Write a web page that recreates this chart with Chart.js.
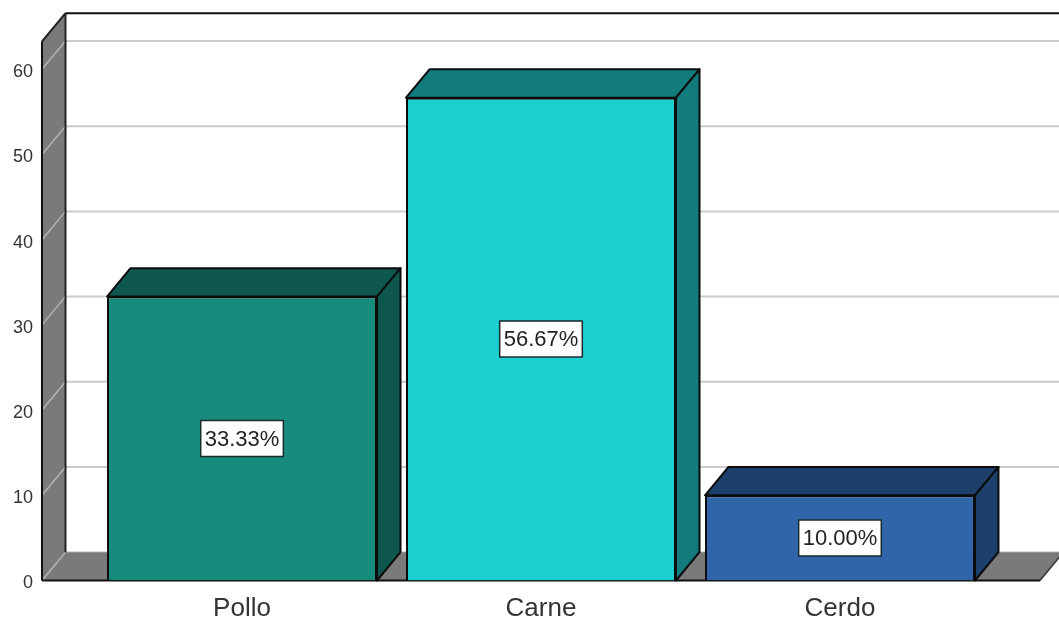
<!DOCTYPE html>
<html>
<head>
<meta charset="utf-8">
<title>Carne</title>
<script src="https://cdn.jsdelivr.net/npm/chart.js@4"></script>
<style>
  html, body { margin: 0; padding: 0; background: #fff; overflow: hidden; }
  canvas { display: block; }
</style>
</head>
<body>
<canvas id="mychartCanvas" width="1059" height="619"></canvas>
<script>
var categories = ["Pollo", "Carne", "Cerdo"];
var values = [33.33, 56.67, 10.00];
var tickValues = [0, 10, 20, 30, 40, 50, 60];
var frontColors = ["#178b7c", "#1ccfd0", "#3066a9"];
var depthColors = ["#0e574e", "#127c7d", "#1d3f6c"];

var depthX = 23.5;
var depthY = 28.3;
var labelFont = "22px 'Liberation Sans', Arial, sans-serif";

function poly(ctx, pts, fill, stroke, lw) {
  ctx.beginPath();
  ctx.moveTo(pts[0][0], pts[0][1]);
  for (var i = 1; i < pts.length; i++) {
    ctx.lineTo(pts[i][0], pts[i][1]);
  }
  ctx.closePath();
  if (fill) {
    ctx.fillStyle = fill;
    ctx.fill();
  }
  if (stroke) {
    ctx.strokeStyle = stroke;
    ctx.lineWidth = lw;
    ctx.lineJoin = "round";
    ctx.stroke();
  }
}

function line(ctx, x1, y1, x2, y2, color, lw) {
  ctx.beginPath();
  ctx.moveTo(x1, y1);
  ctx.lineTo(x2, y2);
  ctx.strokeStyle = color;
  ctx.lineWidth = lw;
  ctx.stroke();
}

// the walls and floor behind the bars
var wallsPlugin = {
  id: "walls",
  beforeDatasetsDraw: function (chart) {
    var ctx = chart.ctx;
    var a = chart.chartArea;
    var yScale = chart.scales.y;
    ctx.save();

    poly(ctx, [[a.left, a.bottom], [a.right, a.bottom], [a.right + depthX, a.bottom - depthY], [a.left + depthX, a.bottom - depthY]], "#7a7a7a");
    poly(ctx, [[a.left, a.top], [a.left + depthX, a.top - depthY], [a.left + depthX, a.bottom - depthY], [a.left, a.bottom]], "#7a7a7a");

    tickValues.forEach(function (v) {
      var y = yScale.getPixelForValue(v);
      line(ctx, a.left, y, a.left + depthX, y - depthY, "#b4b4b4", 1.5);
      if (v > 0) {
        line(ctx, a.left + depthX, y - depthY, a.right + depthX, y - depthY, "#cbcbcb", 2);
      }
    });

    line(ctx, a.left + depthX, a.bottom - depthY, a.right + depthX, a.bottom - depthY, "#8c8c8c", 1);
    line(ctx, a.left + depthX, a.top - depthY, a.left + depthX, a.bottom - depthY, "#222", 2);
    line(ctx, a.left + depthX, a.top - depthY, a.right + depthX, a.top - depthY, "#111", 2);
    line(ctx, a.left, a.top, a.left + depthX, a.top - depthY, "#222", 2);
    line(ctx, a.left, a.top, a.left, a.bottom, "#111", 2);
    line(ctx, a.left, a.bottom, a.right, a.bottom, "#111", 2);
    line(ctx, a.right, a.bottom, a.right + depthX, a.bottom - depthY, "#333", 1.5);
    ctx.restore();
  }
};

// top and side faces of the bars, then the value boxes
var barsPlugin = {
  id: "bars3d",
  afterDatasetsDraw: function (chart) {
    var ctx = chart.ctx;
    var bars = chart.getDatasetMeta(0).data;
    ctx.save();
    bars.forEach(function (bar, i) {
      var p = bar.getProps(["x", "y", "base", "width"], true);
      var l = p.x - p.width / 2;
      var r = p.x + p.width / 2;
      var t = p.y;
      var b = p.base;
      poly(ctx, [[l, t], [l + depthX, t - depthY], [r + depthX, t - depthY], [r, t]], depthColors[i], "#0c0c0c", 2);
      poly(ctx, [[r, t], [r + depthX, t - depthY], [r + depthX, b - depthY], [r, b]], depthColors[i], "#0c0c0c", 2);
    });

    ctx.font = labelFont;
    ctx.textAlign = "center";
    ctx.textBaseline = "middle";
    bars.forEach(function (bar, i) {
      var p = bar.getProps(["x", "y", "base"], true);
      var cy = (p.y + p.base) / 2;
      var text = values[i].toFixed(2) + "%";
      var w = ctx.measureText(text).width + 8;
      ctx.fillStyle = "#fff";
      ctx.fillRect(p.x - w / 2, cy - 18, w, 36);
      ctx.strokeStyle = "#1a2a2a";
      ctx.lineWidth = 1.5;
      ctx.strokeRect(p.x - w / 2, cy - 18, w, 36);
      ctx.fillStyle = "#222";
      ctx.fillText(text, p.x, cy + 1);
    });
    ctx.restore();
  }
};

var ctx = document.getElementById("mychartCanvas");

var chart = new Chart(ctx, {
  type: "bar",
  data: {
    datasets: [
      {
        data: values.map(function (v, i) { return { x: i, y: v }; }),
        backgroundColor: frontColors,
        borderColor: "#0c0c0c",
        borderWidth: 2,
        barPercentage: 0.903,
        categoryPercentage: 1
      }
    ]
  },
  options: {
    responsive: false,
    animation: false,
    layout: { padding: { top: 41.5, right: 19, left: 0, bottom: 0 } },
    plugins: {
      legend: { display: false },
      tooltip: { enabled: false },
      title: { display: false }
    },
    scales: {
      x: {
        type: "linear",
        offset: false,
        min: -0.669,
        max: 2.669,
        grid: { display: false },
        border: { display: false },
        afterBuildTicks: function (scale) {
          scale.ticks = categories.map(function (c, i) { return { value: i }; });
        },
        afterFit: function (scale) {
          scale.height = 38.5;
        },
        ticks: {
          autoSkip: false,
          maxRotation: 0,
          padding: 5,
          color: "#333",
          font: { family: "'Liberation Sans', Arial, sans-serif", size: 26 },
          callback: function (value) {
            return categories[value];
          }
        }
      },
      y: {
        min: 0,
        max: 63.26,
        grid: { display: false },
        border: { display: false },
        afterBuildTicks: function (scale) {
          scale.ticks = tickValues.map(function (v) { return { value: v }; });
        },
        afterFit: function (scale) {
          scale.width = 42;
        },
        ticks: {
          autoSkip: false,
          padding: 1,
          color: "#333",
          // the empty first line pushes the number down a little, as in the picture
          font: { family: "'Liberation Sans', Arial, sans-serif", size: 18, lineHeight: "6px" },
          callback: function (value) {
            return ["", String(value)];
          }
        }
      }
    }
  },
  plugins: [wallsPlugin, barsPlugin]
});
</script>
</body>
</html>
